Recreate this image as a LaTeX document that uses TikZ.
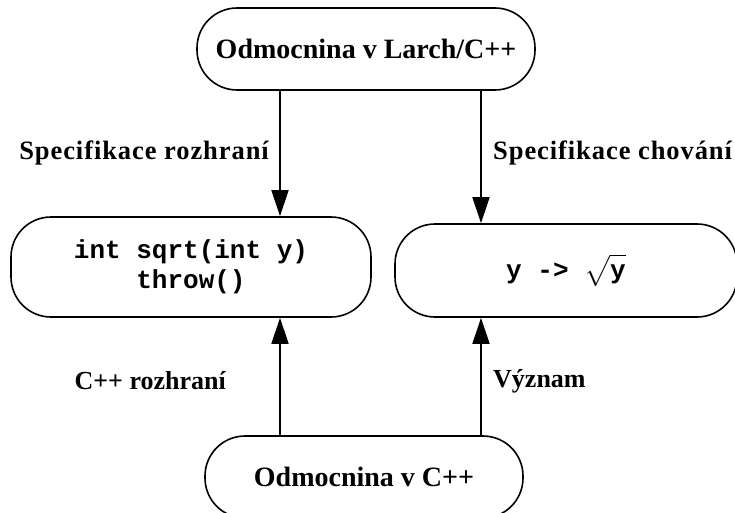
\documentclass[tikz,border=0pt]{standalone}
\usepackage{fontspec}
\usepackage{unicode-math}
\setmainfont{Liberation Serif}
\setmonofont{Liberation Mono}
\setmathfont{Latin Modern Math}
\newfontfamily\spacedserif[LetterSpace=3.5]{Liberation Serif}
\usetikzlibrary{arrows.meta}

\tikzset{
  pill/.style={draw=black, line width=1.6pt, rounded corners=40pt, fill=white,
    font=\fontsize{28}{30}\selectfont\bfseries, inner sep=0pt},
  codepill/.style={pill, font=\fontsize{26}{30}\selectfont\ttfamily\bfseries, align=center},
  lbl/.style={font=\fontsize{26}{30}\selectfont\bfseries, inner sep=0pt},
  widelbl/.style={font=\fontsize{26.5}{30}\selectfont\spacedserif\bfseries, inner sep=0pt},
  arr/.style={draw=black, line width=1.6pt,
    -{Triangle[width=17pt,length=26pt]}}
}

\begin{document}
\begin{tikzpicture}[x=1pt, y=-1pt]
  \useasboundingbox (0,0) rectangle (735,513);
  \clip (0,0) rectangle (735,513);
  \fill[white] (0,0) rectangle (735,513);

  % the four pill-shaped boxes
  \node[pill, minimum width=338pt, minimum height=82pt] (larch) at (366,49) {Odmocnina v Larch/C++};
  \node[codepill, minimum width=360pt, minimum height=100pt] (iface) at (191,267)
    {int sqrt(int y)\\throw()};
  \node[codepill, minimum width=342pt, minimum height=93pt] (meaning) at (566,270.5)
    {y -> $\sqrt{\vphantom{A}\mbox{\ttfamily\bfseries y}}$};
  \node[pill, minimum width=318pt, minimum height=82pt] (cpp) at (364,477) {Odmocnina v C++};

  % x positions of the two arrow columns
  \coordinate (colL) at (280,0);
  \coordinate (colR) at (481,0);

  % arrows
  \draw[arr] (larch.south -| colL) -- (iface.north -| colL);
  \draw[arr] (larch.south -| colR) -- (meaning.north -| colR);
  \draw[arr] (cpp.north -| colL) -- (iface.south -| colL);
  \draw[arr] (cpp.north -| colR) -- (meaning.south -| colR);

  % arrow labels
  \node[widelbl, anchor=east] (l1) at (269,153) {Specifikace rozhraní};
  \node[widelbl, anchor=west] (l2) at (493,153) {Specifikace chování};
  \node[lbl, anchor=east] (l3) at (226,381) {C++ rozhraní};
  \node[lbl, anchor=west] (l4) at (493,381) {Význam};
\end{tikzpicture}
\end{document}
